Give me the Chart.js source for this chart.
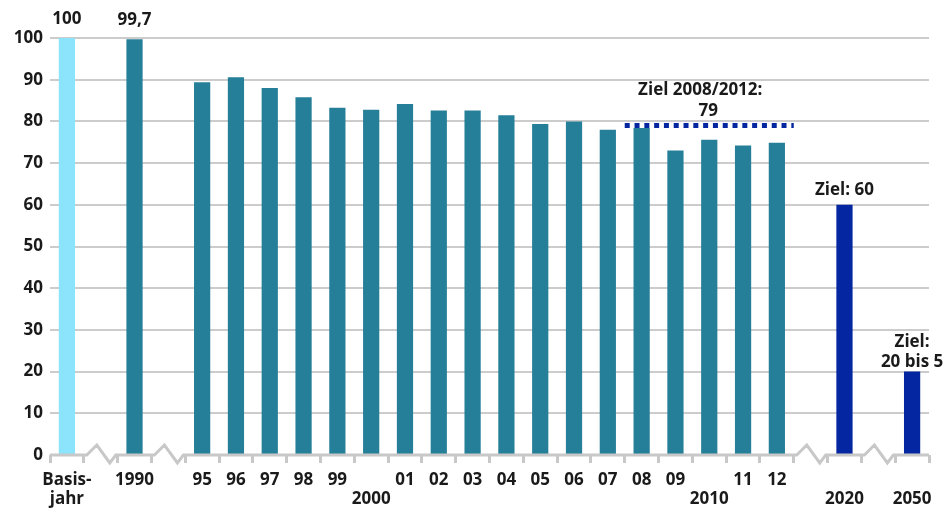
<!DOCTYPE html>
<html><head><meta charset="utf-8">
<script src="https://cdn.jsdelivr.net/npm/chart.js@4/dist/chart.umd.min.js"></script>
<style>html,body{margin:0;padding:0;background:#fff}#wrap{width:944px;height:510px;position:relative}</style>
</head><body><div id="wrap"><canvas id="c" width="944" height="510"></canvas></div>
<script>
// ---- data ----
const categories = [['Basis-','jahr'], '', '1990', '', '95', '96', '97', '98', '99', ['', '2000'], '01', '02', '03', '04', '05', '06', '07', '08', '09', ['', '2010'], '11', '12', '', ['', '2020'], '', ['', '2050']];
const values = [100, null, 99.7, null, 89.4, 90.6, 88.0, 85.8, 83.3, 82.8, 84.2, 82.6, 82.6, 81.5, 79.4, 80.0, 78.0, 78.4, 73.0, 75.6, 74.2, 74.9, null, 60, null, 20];
const kinds = ['basis', '', 'hist', '', 'hist', 'hist', 'hist', 'hist', 'hist', 'hist', 'hist', 'hist', 'hist', 'hist', 'hist', 'hist', 'hist', 'hist', 'hist', 'hist', 'hist', 'hist', '', 'target', '', 'target'];
const breakSlots = [1, 3, 22, 24];
const target2012 = 79;
const targetFrom = 17, targetTo = 21; // 2008 .. 2012
const topLabels = [{i: 0, text: ['100']}, {i: 2, text: ['99,7']}, {i: 23, text: ['Ziel: 60']}, {i: 25, text: ['Ziel:', '20 bis 5']}];
const targetLabel = ['Ziel 2008/2012:', '79'];
const yMin = 0, yMax = 100, yStep = 10;

const colors = {basis: '#8ce3fc', hist: '#267f98', target: '#0427a1'};
const FONT = "'Open Sans', sans-serif";
const TXT = '#1a1a1a';
const W = 'bold';
const FS = 17;

const overlay = {
  id: 'overlay',
  afterDatasetsDraw(chart) {
    const ctx = chart.ctx, xs = chart.scales.x, ys = chart.scales.y;
    const slot = xs.getPixelForValue(1) - xs.getPixelForValue(0);
    const y0 = ys.getPixelForValue(0);
    ctx.save();
    ctx.strokeStyle = '#c8c8c8';
    ctx.lineWidth = 3;
    ctx.beginPath();
    ctx.moveTo(xs.left, y0);
    for (const b of breakSlots) {
      const l = xs.getPixelForValue(b) - slot / 2;
      ctx.lineTo(l + 3, y0);
      ctx.lineTo(l + 13, y0 - 10);
      ctx.lineTo(l + 26, y0 + 8);
      ctx.lineTo(l + 32, y0);
    }
    ctx.lineTo(xs.right, y0);
    ctx.stroke();
    const yl = ys.getPixelForValue(target2012);
    const xa = xs.getPixelForValue(targetFrom) - slot / 2;
    const xb = xs.getPixelForValue(targetTo) + slot / 2;
    ctx.strokeStyle = colors.target;
    ctx.lineWidth = 5;
    ctx.setLineDash([5, 4.8]);
    ctx.beginPath();
    ctx.moveTo(xa, yl);
    ctx.lineTo(xb, yl);
    ctx.stroke();
    ctx.setLineDash([]);
    ctx.fillStyle = TXT;
    ctx.font = W + ' ' + FS + 'px ' + FONT;
    ctx.textAlign = 'center';
    ctx.textBaseline = 'middle';
    for (const t of topLabels) {
      const bx = xs.getPixelForValue(t.i);
      const by = ys.getPixelForValue(values[t.i]);
      const n = t.text.length;
      const off = t.i === 23 ? 15 : (n > 1 ? 9 : 19);
      t.text.forEach((s, k) => ctx.fillText(s, bx, by - off - (n - 1 - k) * 20));
    }
    const cx = xs.getPixelForValue(19);
    ctx.fillText(targetLabel[0], cx - 9, yl - 35);
    ctx.fillText(targetLabel[1], cx - 1, yl - 14);
    ctx.restore();
  }
};

new Chart(document.getElementById('c'), {
  type: 'bar',
  data: {
    labels: categories,
    datasets: [{
      data: values,
      backgroundColor: kinds.map(k => colors[k] || 'transparent'),
      borderWidth: 0,
      categoryPercentage: 1,
      barPercentage: 0.48
    }]
  },
  options: {
    responsive: false,
    animation: false,
    layout: {padding: {top: 38, right: 15, left: 0, bottom: 0}},
    plugins: {legend: {display: false}, tooltip: {enabled: false}},
    scales: {
      x: {
        grid: {display: true, drawOnChartArea: false, drawTicks: true, tickLength: 8, color: '#c8c8c8', lineWidth: 3, offset: true},
        border: {display: false},
        ticks: {autoSkip: false, maxRotation: 0, minRotation: 0, padding: 7, color: TXT, font: {family: FONT, size: FS, weight: W, lineHeight: 1.15}},
        afterFit: s => { s.height = 55; }
      },
      y: {
        min: yMin, max: yMax,
        grid: {drawTicks: false, color: c => (c.tick && c.tick.value === 0) ? 'rgba(0,0,0,0)' : '#cccccc', lineWidth: 2},
        border: {display: false},
        ticks: {stepSize: yStep, padding: 7, color: TXT, font: {family: FONT, size: FS, weight: W}},
        afterFit: s => { s.width = 50; }
      }
    }
  },
  plugins: [overlay]
});
</script>
</body></html>
